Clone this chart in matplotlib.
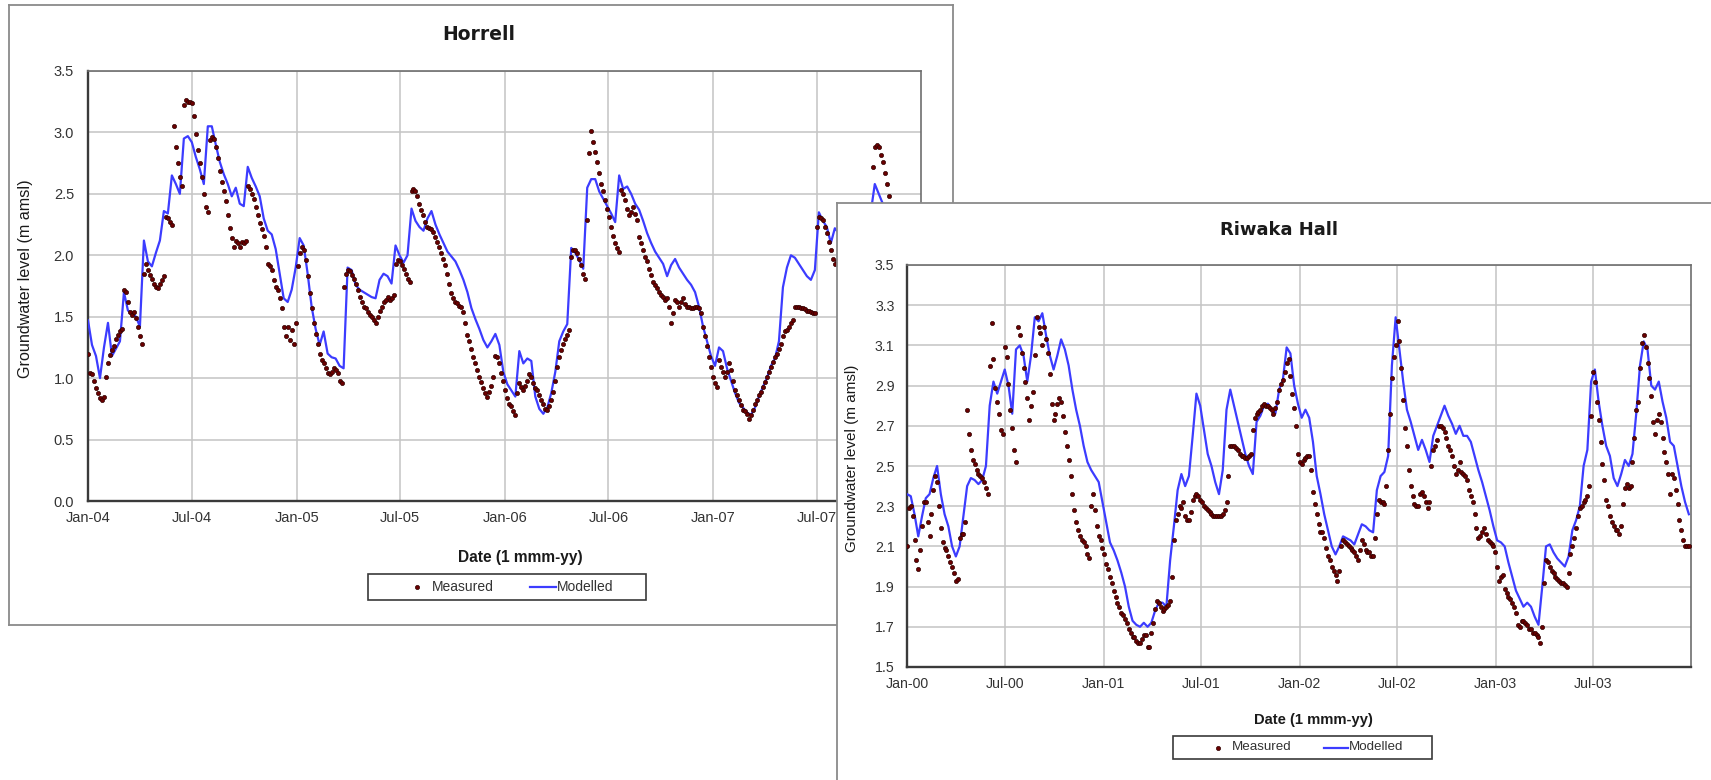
import matplotlib
matplotlib.use("Agg")
import matplotlib.pyplot as plt
import matplotlib.dates as mdates
import pandas as pd
from matplotlib.patches import Rectangle
from matplotlib.lines import Line2D

plt.rcParams['font.family'] = ['Liberation Sans', 'DejaVu Sans']

W, H = 1711, 780

# Horrell bore, from 1 Jan 2004 (m amsl)
# measured: twice-weekly readings, modelled: weekly output
horrell_start = "2004-01-01"
horrell_measured = [
    1.20, 1.04, 1.03, 0.98, 0.92, 0.88, 0.84, 0.82, 0.85, 1.01, 1.12, 1.19,
    1.23, 1.26, 1.32, 1.35, 1.38, 1.40, 1.72, 1.70, 1.62, 1.54, 1.51, 1.54,
    1.49, 1.42, 1.34, 1.28, 1.85, 1.93, 1.88, 1.84, 1.81, 1.77, 1.74, 1.73,
    1.77, 1.80, 1.83, 2.31, 2.30, 2.27, 2.25, 3.05, 2.88, 2.75, 2.64, 2.56,
    3.22, 3.26, 3.25, 3.25, 3.24, 3.13, 2.99, 2.86, 2.75, 2.64, 2.50, 2.39,
    2.35, 2.94, 2.96, 2.95, 2.88, 2.79, 2.69, 2.60, 2.52, 2.44, 2.33, 2.22,
    2.14, 2.07, 2.12, 2.10, 2.07, 2.11, 2.10, 2.12, 2.56, 2.54, 2.50, 2.46,
    2.39, 2.33, 2.26, 2.21, 2.16, 2.07, 1.93, 1.91, 1.88, 1.80, 1.74, 1.72,
    1.65, 1.57, 1.42, 1.34, 1.42, 1.31, 1.39, 1.28, 1.45, 1.91, 2.02, 2.07,
    2.04, 1.96, 1.83, 1.69, 1.57, 1.45, 1.36, 1.28, 1.20, 1.15, 1.12, 1.08,
    1.04, 1.03, 1.05, 1.08, 1.07, 1.04, 0.98, 0.96, 1.74, 1.85, 1.88, 1.87,
    1.84, 1.81, 1.77, 1.72, 1.66, 1.62, 1.58, 1.57, 1.54, 1.51, 1.50, 1.47,
    1.45, 1.50, 1.55, 1.58, 1.62, 1.64, 1.66, 1.64, 1.65, 1.68, 1.93, 1.96,
    1.95, 1.92, 1.89, 1.85, 1.81, 1.78, 2.52, 2.54, 2.52, 2.48, 2.42, 2.37,
    2.33, 2.27, 2.23, 2.22, 2.21, 2.19, 2.15, 2.11, 2.07, 2.02, 1.97, 1.92,
    1.85, 1.77, 1.69, 1.65, 1.62, 1.61, 1.59, 1.58, 1.54, 1.45, 1.35, 1.30,
    1.24, 1.17, 1.12, 1.07, 1.01, 0.97, 0.92, 0.88, 0.85, 0.89, 0.94, 1.01,
    1.18, 1.17, 1.12, 1.04, 0.98, 0.90, 0.84, 0.79, 0.77, 0.73, 0.70, 0.88,
    0.96, 0.93, 0.90, 0.94, 0.98, 1.03, 1.01, 0.96, 0.92, 0.90, 0.86, 0.82,
    0.79, 0.75, 0.74, 0.77, 0.82, 0.89, 0.98, 1.09, 1.17, 1.23, 1.28, 1.32,
    1.35, 1.39, 1.99, 2.04, 2.04, 2.02, 1.97, 1.92, 1.85, 1.81, 2.29, 2.83,
    3.01, 2.92, 2.84, 2.76, 2.67, 2.58, 2.52, 2.45, 2.38, 2.31, 2.23, 2.16,
    2.10, 2.06, 2.03, 2.53, 2.50, 2.45, 2.38, 2.33, 2.35, 2.39, 2.34, 2.29,
    2.15, 2.10, 2.04, 1.99, 1.95, 1.89, 1.84, 1.78, 1.76, 1.73, 1.70, 1.68,
    1.66, 1.64, 1.65, 1.58, 1.45, 1.53, 1.64, 1.62, 1.58, 1.62, 1.65, 1.60,
    1.58, 1.58, 1.57, 1.57, 1.58, 1.58, 1.57, 1.53, 1.42, 1.34, 1.26, 1.17,
    1.09, 1.01, 0.96, 0.93, 1.15, 1.09, 1.05, 1.01, 1.05, 1.12, 1.07, 0.98,
    0.90, 0.86, 0.82, 0.78, 0.74, 0.73, 0.71, 0.67, 0.70, 0.74, 0.79, 0.82,
    0.86, 0.89, 0.93, 0.97, 1.01, 1.05, 1.09, 1.13, 1.17, 1.20, 1.24, 1.28,
    1.34, 1.38, 1.39, 1.42, 1.45, 1.47, 1.58, 1.58, 1.58, 1.57, 1.57, 1.56,
    1.55, 1.55, 1.54, 1.53, 1.53, 2.23, 2.31, 2.30, 2.29, 2.23, 2.18, 2.11,
    2.04, 1.97, 1.93, 1.95, 2.00, 2.08, 2.15, 2.20, 2.22, 2.20, 2.18, 2.16,
    2.15, 2.14, 2.13, 2.12, 2.12, 2.15, 2.20, 2.30, 2.35, 2.72, 2.88, 2.90,
    2.88, 2.82, 2.76, 2.67, 2.58, 2.48, 2.40,
]
horrell_modelled = [
    1.47, 1.27, 1.18, 1.00, 1.25, 1.45, 1.18, 1.24, 1.30, 1.70, 1.55, 1.53, 1.50,
    1.42, 2.12, 1.95, 1.91, 2.02, 2.12, 2.36, 2.34, 2.65, 2.58, 2.50, 2.95, 2.97,
    2.92, 2.80, 2.70, 2.58, 3.05, 3.05, 2.90, 2.76, 2.66, 2.58, 2.48, 2.55, 2.42,
    2.40, 2.72, 2.63, 2.56, 2.48, 2.30, 2.20, 2.17, 2.05, 1.85, 1.65, 1.62, 1.72,
    1.90, 2.14, 2.08, 1.85, 1.58, 1.40, 1.27, 1.38, 1.20, 1.17, 1.16, 1.10, 1.08,
    1.90, 1.88, 1.76, 1.72, 1.70, 1.68, 1.66, 1.65, 1.80, 1.85, 1.83, 1.77, 2.08,
    2.00, 1.94, 2.00, 2.38, 2.28, 2.23, 2.20, 2.30, 2.36, 2.25, 2.17, 2.10, 2.03,
    1.99, 1.95, 1.88, 1.80, 1.70, 1.57, 1.48, 1.40, 1.31, 1.25, 1.30, 1.36, 1.27,
    1.05, 0.95, 0.90, 0.85, 1.22, 1.12, 1.16, 1.14, 0.85, 0.75, 0.71, 0.76, 0.88,
    1.05, 1.30, 1.38, 1.44, 2.06, 2.02, 1.96, 1.89, 2.55, 2.62, 2.62, 2.52, 2.46,
    2.40, 2.34, 2.27, 2.65, 2.54, 2.56, 2.50, 2.42, 2.37, 2.28, 2.18, 2.10, 2.03,
    1.98, 1.93, 1.83, 1.92, 1.97, 1.90, 1.85, 1.80, 1.76, 1.70, 1.58, 1.42, 1.30,
    1.18, 1.10, 1.25, 1.22, 1.08, 0.98, 0.88, 0.80, 0.76, 0.72, 0.70, 0.76, 0.85,
    0.93, 1.00, 1.10, 1.16, 1.30, 1.74, 1.90, 2.00, 1.98, 1.93, 1.88, 1.83, 1.80,
    1.88, 2.35, 2.28, 2.23, 2.10, 2.22, 2.18, 2.14, 2.10, 2.06, 2.20, 2.25, 2.30,
    2.28, 2.35, 2.58, 2.50, 2.42, 2.36, 2.30,
]

# Riwaka Hall bore, from 1 Jan 2000 (m amsl)
riwaka_start = "2000-01-01"
riwaka_measured = [
    2.10, 2.29, 2.30, 2.25, 2.13, 2.03, 1.99, 2.08, 2.20, 2.32, 2.32, 2.22,
    2.15, 2.26, 2.38, 2.45, 2.42, 2.30, 2.19, 2.12, 2.09, 2.08, 2.05, 2.02,
    2.00, 1.97, 1.93, 1.94, 2.14, 2.16, 2.16, 2.22, 2.78, 2.66, 2.58, 2.53,
    2.51, 2.48, 2.46, 2.45, 2.44, 2.42, 2.39, 2.36, 3.00, 3.21, 3.03, 2.89,
    2.82, 2.76, 2.68, 2.66, 3.09, 3.04, 2.91, 2.78, 2.69, 2.58, 2.52, 3.19,
    3.15, 3.06, 2.99, 2.92, 2.84, 2.73, 2.80, 2.87, 3.05, 3.24, 3.19, 3.16,
    3.10, 3.19, 3.13, 3.06, 2.96, 2.81, 2.73, 2.76, 2.81, 2.84, 2.82, 2.75,
    2.67, 2.60, 2.53, 2.45, 2.36, 2.28, 2.22, 2.18, 2.15, 2.13, 2.12, 2.10,
    2.06, 2.04, 2.30, 2.36, 2.28, 2.20, 2.15, 2.13, 2.09, 2.06, 2.01, 1.99,
    1.95, 1.92, 1.88, 1.85, 1.82, 1.80, 1.77, 1.76, 1.74, 1.72, 1.69, 1.67,
    1.65, 1.65, 1.63, 1.62, 1.62, 1.64, 1.66, 1.66, 1.60, 1.60, 1.67, 1.72,
    1.79, 1.83, 1.82, 1.80, 1.78, 1.79, 1.80, 1.81, 1.83, 1.95, 2.13, 2.23,
    2.26, 2.30, 2.29, 2.32, 2.25, 2.23, 2.23, 2.27, 2.33, 2.35, 2.36, 2.35,
    2.33, 2.32, 2.30, 2.29, 2.28, 2.27, 2.26, 2.25, 2.25, 2.25, 2.25, 2.25,
    2.26, 2.28, 2.32, 2.45, 2.60, 2.60, 2.60, 2.59, 2.58, 2.56, 2.55, 2.55,
    2.54, 2.54, 2.55, 2.56, 2.68, 2.74, 2.76, 2.77, 2.78, 2.80, 2.81, 2.80,
    2.80, 2.79, 2.78, 2.76, 2.79, 2.82, 2.88, 2.91, 2.93, 2.97, 3.01, 3.03,
    2.95, 2.86, 2.79, 2.70, 2.56, 2.52, 2.51, 2.53, 2.54, 2.55, 2.55, 2.48,
    2.37, 2.31, 2.26, 2.21, 2.17, 2.17, 2.14, 2.09, 2.05, 2.03, 2.00, 1.98,
    1.96, 1.93, 1.98, 2.10, 2.13, 2.12, 2.11, 2.10, 2.09, 2.08, 2.07, 2.05,
    2.03, 2.08, 2.13, 2.11, 2.08, 2.07, 2.07, 2.05, 2.05, 2.14, 2.26, 2.33,
    2.32, 2.32, 2.31, 2.40, 2.58, 2.76, 2.94, 3.04, 3.10, 3.22, 3.12, 2.99,
    2.83, 2.69, 2.60, 2.48, 2.40, 2.35, 2.31, 2.30, 2.30, 2.36, 2.37, 2.35,
    2.32, 2.29, 2.32, 2.50, 2.58, 2.60, 2.63, 2.70, 2.70, 2.69, 2.67, 2.64,
    2.60, 2.58, 2.55, 2.50, 2.46, 2.48, 2.52, 2.47, 2.46, 2.45, 2.43, 2.38,
    2.35, 2.32, 2.26, 2.19, 2.14, 2.15, 2.17, 2.19, 2.16, 2.13, 2.12, 2.11,
    2.10, 2.07, 2.00, 1.93, 1.95, 1.96, 1.89, 1.87, 1.85, 1.84, 1.82, 1.80,
    1.77, 1.71, 1.70, 1.73, 1.73, 1.72, 1.71, 1.69, 1.69, 1.67, 1.67, 1.66,
    1.65, 1.62, 1.70, 1.92, 2.03, 2.02, 2.00, 1.98, 1.97, 1.95, 1.94, 1.93,
    1.92, 1.92, 1.91, 1.90, 1.97, 2.06, 2.10, 2.14, 2.19, 2.25, 2.29, 2.30,
    2.32, 2.33, 2.35, 2.40, 2.75, 2.97, 2.92, 2.82, 2.73, 2.62, 2.51, 2.43,
    2.33, 2.30, 2.25, 2.22, 2.20, 2.18, 2.18, 2.16, 2.20, 2.31, 2.39, 2.41,
    2.39, 2.40, 2.52, 2.64, 2.78, 2.82, 2.99, 3.11, 3.15, 3.09, 3.01, 2.94,
    2.85, 2.72, 2.66, 2.73, 2.76, 2.72, 2.64, 2.57, 2.52, 2.46, 2.36, 2.46,
    2.44, 2.38, 2.31, 2.23, 2.18, 2.13, 2.10, 2.10, 2.10,
]
riwaka_modelled = [
    2.36, 2.35, 2.26, 2.15, 2.25, 2.34, 2.36, 2.44, 2.50, 2.36, 2.26, 2.20, 2.10,
    2.05, 2.10, 2.25, 2.40, 2.44, 2.43, 2.41, 2.43, 2.50, 2.80, 2.92, 2.86, 2.92,
    2.98, 2.90, 2.76, 3.08, 3.10, 3.05, 2.92, 3.05, 3.24, 3.22, 3.26, 3.15, 3.05,
    2.98, 3.05, 3.13, 3.08, 3.00, 2.88, 2.78, 2.70, 2.60, 2.52, 2.48, 2.45, 2.42,
    2.32, 2.22, 2.12, 2.08, 2.03, 1.97, 1.90, 1.80, 1.73, 1.71, 1.70, 1.72, 1.70,
    1.72, 1.78, 1.82, 1.82, 1.80, 2.03, 2.20, 2.38, 2.46, 2.40, 2.45, 2.65, 2.86,
    2.80, 2.68, 2.56, 2.50, 2.42, 2.36, 2.48, 2.78, 2.88, 2.80, 2.72, 2.64, 2.56,
    2.50, 2.46, 2.72, 2.75, 2.80, 2.81, 2.78, 2.76, 2.88, 2.93, 3.09, 3.06, 2.90,
    2.81, 2.74, 2.78, 2.74, 2.62, 2.45, 2.36, 2.26, 2.18, 2.10, 2.06, 2.10, 2.15,
    2.14, 2.13, 2.11, 2.16, 2.21, 2.20, 2.18, 2.17, 2.38, 2.45, 2.47, 2.55, 3.00,
    3.24, 3.08, 2.92, 2.78, 2.72, 2.65, 2.58, 2.63, 2.58, 2.52, 2.65, 2.70, 2.75,
    2.80, 2.75, 2.71, 2.66, 2.70, 2.65, 2.65, 2.62, 2.55, 2.48, 2.42, 2.35, 2.28,
    2.20, 2.13, 2.12, 2.10, 2.02, 1.95, 1.88, 1.84, 1.80, 1.82, 1.80, 1.75, 1.71,
    1.90, 2.10, 2.11, 2.07, 2.04, 2.02, 2.00, 2.05, 2.18, 2.23, 2.30, 2.50, 2.58,
    2.92, 2.98, 2.82, 2.70, 2.60, 2.55, 2.44, 2.40, 2.46, 2.53, 2.50, 2.56, 2.76,
    3.00, 3.12, 3.08, 2.90, 2.88, 2.92, 2.82, 2.74, 2.62, 2.60, 2.50, 2.40, 2.32,
    2.26,
]

MEAS_FACE = '#6a0000'
MEAS_EDGE = '#2e0000'
MOD_COLOR = '#3c3cff'
TXT = '#333333'


def fx(x):
    return x / W


def fy(y):
    return 1 - y / H


def px_axes(fig, x0, y0, x1, y1):
    return fig.add_axes([fx(x0), fy(y1), (x1 - x0) / W, (y1 - y0) / H])


def chart_box(fig, x0, y0, x1, y1, z):
    bg = px_axes(fig, x0, y0, x1, y1)
    bg.set_zorder(z)
    bg.set_xticks([])
    bg.set_yticks([])
    bg.set_facecolor('white')
    for s in bg.spines.values():
        s.set_color('#8a8a8a')
        s.set_linewidth(1.3)
    return bg


def draw_series(ax, start, measured, modelled):
    d_meas = pd.date_range(start, periods=len(measured), freq='84h')
    d_mod = pd.date_range(start, periods=len(modelled), freq='7D')
    ax.plot(d_mod, modelled, color=MOD_COLOR, lw=1.6, zorder=3)
    ax.plot(d_meas, measured, ls='none', marker='o', ms=3.0,
            mfc=MEAS_FACE, mec=MEAS_EDGE, mew=0.5, zorder=4)


def style_axes(ax, xlim, ylim, ystep, fs, xpad, ypad):
    ax.set_xlim(pd.Timestamp(xlim[0]), pd.Timestamp(xlim[1]))
    ax.set_ylim(*ylim)
    ax.xaxis.set_major_locator(mdates.MonthLocator(bymonth=[1, 7]))
    ax.xaxis.set_major_formatter(mdates.DateFormatter('%b-%y'))
    ticks = []
    v = ylim[0]
    while v <= ylim[1] + 1e-9:
        ticks.append(round(v, 2))
        v += ystep
    ax.set_yticks(ticks)
    ax.set_yticklabels([f"{t:.1f}" for t in ticks])
    ax.tick_params(axis='x', length=0, pad=xpad, labelsize=fs, labelcolor=TXT)
    ax.tick_params(axis='y', length=0, pad=ypad, labelsize=fs, labelcolor=TXT)
    ax.grid(True, color='#c4c4c4', lw=1.1)
    ax.set_axisbelow(True)
    for side in ('left', 'bottom'):
        ax.spines[side].set_color('#3a3a3a')
        ax.spines[side].set_linewidth(1.7)
    for side in ('top', 'right'):
        ax.spines[side].set_color('#6e6e6e')
        ax.spines[side].set_linewidth(1.2)


def draw_legend(fig, box, dot_x, text1_x, line_x, text2_x, fs, z):
    x0, y0, x1, y1 = box
    fig.add_artist(Rectangle((fx(x0), fy(y1)), (x1 - x0) / W, (y1 - y0) / H,
                             transform=fig.transFigure, fc='white', ec='#3a3a3a',
                             lw=1.2, zorder=z))
    yc = fy((y0 + y1) / 2)
    fig.add_artist(Line2D([fx(dot_x)], [yc], ls='none', marker='o', ms=3.0,
                          mfc=MEAS_FACE, mec=MEAS_EDGE, mew=0.5,
                          transform=fig.transFigure, zorder=z + 0.1))
    fig.text(fx(text1_x), yc, 'Measured', ha='left', va='center', fontsize=fs,
             color=TXT, zorder=z + 0.1)
    fig.add_artist(Line2D([fx(line_x[0]), fx(line_x[1])], [yc, yc], color=MOD_COLOR,
                          lw=1.6, transform=fig.transFigure, zorder=z + 0.1))
    fig.text(fx(text2_x), yc, 'Modelled', ha='left', va='center', fontsize=fs,
             color=TXT, zorder=z + 0.1)


fig = plt.figure(figsize=(W / 100, H / 100), dpi=100)

# Horrell chart (back)
chart_box(fig, 9, 5, 953, 625, 1)
ax1 = px_axes(fig, 88, 71, 921, 501)
ax1.set_zorder(2)
draw_series(ax1, horrell_start, horrell_measured, horrell_modelled)
style_axes(ax1, ("2004-01-01", "2007-12-31"), (0, 3.5), 0.5, 10.5, 7, 10)
ax1.text(0.469, 1.084, 'Horrell', transform=ax1.transAxes, ha='center', va='center',
         fontsize=13.5, fontweight='bold', family='DejaVu Sans', color='#1a1a1a')
ax1.set_ylabel('Groundwater level (m amsl)', fontsize=11.6, color='#1a1a1a')
ax1.yaxis.set_label_coords(-0.066, 0.516)
ax1.set_xlabel('Date (1 mmm-yy)', fontsize=11.2, fontweight='bold', color='#1a1a1a')
ax1.xaxis.set_label_coords(0.5186, -0.114)
draw_legend(fig, (368, 574, 646, 600), 417, 432, (530, 556), 557, 10, 2.5)

# Riwaka Hall chart (front)
chart_box(fig, 837, 203, 1740, 800, 4)
ax2 = px_axes(fig, 907, 265, 1691, 667)
ax2.set_zorder(5)
draw_series(ax2, riwaka_start, riwaka_measured, riwaka_modelled)
style_axes(ax2, ("2000-01-01", "2003-12-31"), (1.5, 3.5), 0.2, 10.2, 7, 9)
ax2.text(0.475, 1.087, 'Riwaka Hall', transform=ax2.transAxes, ha='center', va='center',
         fontsize=13, fontweight='bold', family='DejaVu Sans', color='#1a1a1a')
ax2.set_ylabel('Groundwater level (m amsl)', fontsize=11, color='#1a1a1a')
ax2.yaxis.set_label_coords(-0.0612, 0.52)
ax2.set_xlabel('Date (1 mmm-yy)', fontsize=10.6, fontweight='bold', color='#1a1a1a')
ax2.xaxis.set_label_coords(0.519, -0.1144)
draw_legend(fig, (1173, 736, 1432, 759), 1218, 1232, (1324, 1348), 1349, 9.6, 6)

fig.savefig('out.png', dpi=100, facecolor='white')
